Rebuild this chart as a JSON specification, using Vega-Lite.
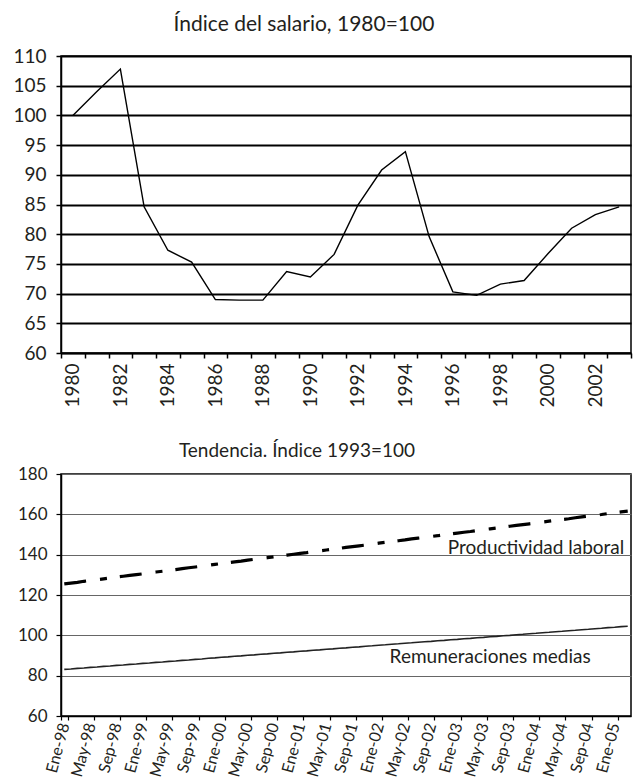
{
  "$schema": "https://vega.github.io/schema/vega-lite/v6.json",
  "background": "white",
  "padding": {"left": 12, "top": 13, "right": 2, "bottom": 0},
  "spacing": 33,
  "config": {
    "font": "Lato",
    "view": {"stroke": "black", "strokeWidth": 1.5},
    "axis": {"labelColor": "#231f20", "domainColor": "black", "tickColor": "black", "title": null},
    "title": {"color": "#231f20", "fontWeight": "normal"}
  },
  "datasets": {
    "salario": [
      {"anio": 1980, "indice": 100.0}, {"anio": 1981, "indice": 104.0}, {"anio": 1982, "indice": 107.8},
      {"anio": 1983, "indice": 84.6}, {"anio": 1984, "indice": 77.3}, {"anio": 1985, "indice": 75.3},
      {"anio": 1986, "indice": 69.0}, {"anio": 1987, "indice": 68.9}, {"anio": 1988, "indice": 68.9},
      {"anio": 1989, "indice": 73.7}, {"anio": 1990, "indice": 72.8}, {"anio": 1991, "indice": 76.6},
      {"anio": 1992, "indice": 84.9}, {"anio": 1993, "indice": 90.8}, {"anio": 1994, "indice": 93.9},
      {"anio": 1995, "indice": 79.6}, {"anio": 1996, "indice": 70.3}, {"anio": 1997, "indice": 69.7},
      {"anio": 1998, "indice": 71.6}, {"anio": 1999, "indice": 72.2}, {"anio": 2000, "indice": 76.7},
      {"anio": 2001, "indice": 81.0}, {"anio": 2002, "indice": 83.3}, {"anio": 2003, "indice": 84.6}
    ],
    "tendencia": [
      {"mes": "Ene-98", "prod": 125.5, "rem": 83.1}, {"mes": "Feb-98", "prod": 125.9, "rem": 83.3}, {"mes": "Mar-98", "prod": 126.3, "rem": 83.6},
      {"mes": "Abr-98", "prod": 126.8, "rem": 83.8}, {"mes": "May-98", "prod": 127.2, "rem": 84.1}, {"mes": "Jun-98", "prod": 127.6, "rem": 84.3},
      {"mes": "Jul-98", "prod": 128.0, "rem": 84.6}, {"mes": "Ago-98", "prod": 128.4, "rem": 84.8}, {"mes": "Sep-98", "prod": 128.9, "rem": 85.1},
      {"mes": "Oct-98", "prod": 129.3, "rem": 85.3}, {"mes": "Nov-98", "prod": 129.7, "rem": 85.6}, {"mes": "Dic-98", "prod": 130.1, "rem": 85.8},
      {"mes": "Ene-99", "prod": 130.5, "rem": 86.1}, {"mes": "Feb-99", "prod": 131.0, "rem": 86.3}, {"mes": "Mar-99", "prod": 131.4, "rem": 86.6},
      {"mes": "Abr-99", "prod": 131.8, "rem": 86.8}, {"mes": "May-99", "prod": 132.2, "rem": 87.1}, {"mes": "Jun-99", "prod": 132.6, "rem": 87.3},
      {"mes": "Jul-99", "prod": 133.1, "rem": 87.6}, {"mes": "Ago-99", "prod": 133.5, "rem": 87.8}, {"mes": "Sep-99", "prod": 133.9, "rem": 88.1},
      {"mes": "Oct-99", "prod": 134.3, "rem": 88.3}, {"mes": "Nov-99", "prod": 134.7, "rem": 88.6}, {"mes": "Dic-99", "prod": 135.2, "rem": 88.8},
      {"mes": "Ene-00", "prod": 135.6, "rem": 89.1}, {"mes": "Feb-00", "prod": 136.0, "rem": 89.3}, {"mes": "Mar-00", "prod": 136.4, "rem": 89.6},
      {"mes": "Abr-00", "prod": 136.8, "rem": 89.8}, {"mes": "May-00", "prod": 137.3, "rem": 90.1}, {"mes": "Jun-00", "prod": 137.7, "rem": 90.3},
      {"mes": "Jul-00", "prod": 138.1, "rem": 90.6}, {"mes": "Ago-00", "prod": 138.5, "rem": 90.8}, {"mes": "Sep-00", "prod": 138.9, "rem": 91.1},
      {"mes": "Oct-00", "prod": 139.4, "rem": 91.3}, {"mes": "Nov-00", "prod": 139.8, "rem": 91.6}, {"mes": "Dic-00", "prod": 140.2, "rem": 91.8},
      {"mes": "Ene-01", "prod": 140.6, "rem": 92.1}, {"mes": "Feb-01", "prod": 141.0, "rem": 92.3}, {"mes": "Mar-01", "prod": 141.5, "rem": 92.6},
      {"mes": "Abr-01", "prod": 141.9, "rem": 92.8}, {"mes": "May-01", "prod": 142.3, "rem": 93.1}, {"mes": "Jun-01", "prod": 142.7, "rem": 93.3},
      {"mes": "Jul-01", "prod": 143.1, "rem": 93.6}, {"mes": "Ago-01", "prod": 143.6, "rem": 93.8}, {"mes": "Sep-01", "prod": 144.0, "rem": 94.1},
      {"mes": "Oct-01", "prod": 144.4, "rem": 94.3}, {"mes": "Nov-01", "prod": 144.8, "rem": 94.6}, {"mes": "Dic-01", "prod": 145.2, "rem": 94.8},
      {"mes": "Ene-02", "prod": 145.7, "rem": 95.1}, {"mes": "Feb-02", "prod": 146.1, "rem": 95.3}, {"mes": "Mar-02", "prod": 146.5, "rem": 95.6},
      {"mes": "Abr-02", "prod": 146.9, "rem": 95.8}, {"mes": "May-02", "prod": 147.3, "rem": 96.1}, {"mes": "Jun-02", "prod": 147.8, "rem": 96.3},
      {"mes": "Jul-02", "prod": 148.2, "rem": 96.6}, {"mes": "Ago-02", "prod": 148.6, "rem": 96.8}, {"mes": "Sep-02", "prod": 149.0, "rem": 97.0},
      {"mes": "Oct-02", "prod": 149.4, "rem": 97.3}, {"mes": "Nov-02", "prod": 149.9, "rem": 97.5}, {"mes": "Dic-02", "prod": 150.3, "rem": 97.8},
      {"mes": "Ene-03", "prod": 150.7, "rem": 98.0}, {"mes": "Feb-03", "prod": 151.1, "rem": 98.3}, {"mes": "Mar-03", "prod": 151.5, "rem": 98.5},
      {"mes": "Abr-03", "prod": 152.0, "rem": 98.8}, {"mes": "May-03", "prod": 152.4, "rem": 99.0}, {"mes": "Jun-03", "prod": 152.8, "rem": 99.3},
      {"mes": "Jul-03", "prod": 153.2, "rem": 99.5}, {"mes": "Ago-03", "prod": 153.6, "rem": 99.8}, {"mes": "Sep-03", "prod": 154.1, "rem": 100.0},
      {"mes": "Oct-03", "prod": 154.5, "rem": 100.3}, {"mes": "Nov-03", "prod": 154.9, "rem": 100.5}, {"mes": "Dic-03", "prod": 155.3, "rem": 100.8},
      {"mes": "Ene-04", "prod": 155.7, "rem": 101.0}, {"mes": "Feb-04", "prod": 156.2, "rem": 101.3}, {"mes": "Mar-04", "prod": 156.6, "rem": 101.5},
      {"mes": "Abr-04", "prod": 157.0, "rem": 101.8}, {"mes": "May-04", "prod": 157.4, "rem": 102.0}, {"mes": "Jun-04", "prod": 157.8, "rem": 102.3},
      {"mes": "Jul-04", "prod": 158.3, "rem": 102.5}, {"mes": "Ago-04", "prod": 158.7, "rem": 102.8}, {"mes": "Sep-04", "prod": 159.1, "rem": 103.0},
      {"mes": "Oct-04", "prod": 159.5, "rem": 103.3}, {"mes": "Nov-04", "prod": 159.9, "rem": 103.5}, {"mes": "Dic-04", "prod": 160.4, "rem": 103.8},
      {"mes": "Ene-05", "prod": 160.8, "rem": 104.0}, {"mes": "Feb-05", "prod": 161.2, "rem": 104.3}, {"mes": "Mar-05", "prod": 161.6, "rem": 104.5}
    ],
    "etiquetas": [
      {"mes": "Ene-04", "valor": 140.3, "texto": "Productividad laboral"},
      {"mes": "Jun-03", "valor": 86.4, "texto": "Remuneraciones medias"}
    ]
  },
  "vconcat": [
    {
      "width": 570,
      "height": 297,
      "title": {"text": "Índice del salario, 1980=100", "fontSize": 21, "dx": -42, "offset": 12},
      "data": {"name": "salario"},
      "mark": {"type": "line", "color": "black", "strokeWidth": 1.4},
      "encoding": {
        "x": {
          "field": "anio", "type": "ordinal", "bandPosition": 0.5,
          "scale": {"type": "band", "paddingInner": 0, "paddingOuter": 0},
          "axis": {
            "labelAngle": -90, "labelExpr": "datum.value % 2 == 0 ? datum.label : ''",
            "tickBand": "extent", "labelFontSize": 19, "tickSize": 5, "labelPadding": 5,
            "domainWidth": 1.5, "tickWidth": 1.5, "grid": false, "labelOverlap": false
          }
        },
        "y": {
          "field": "indice", "type": "quantitative",
          "scale": {"domain": [60, 110], "nice": false},
          "axis": {
            "values": [60, 65, 70, 75, 80, 85, 90, 95, 100, 105, 110],
            "gridColor": "black", "gridWidth": 2, "gridOpacity": 1,
            "labelFontSize": 19, "tickSize": 5, "tickWidth": 1.5, "labelPadding": 10, "domainWidth": 1.5
          }
        }
      }
    },
    {
      "width": 570,
      "height": 242,
      "title": {"text": "Tendencia. Índice 1993=100", "fontSize": 19, "dx": -49, "offset": 4},
      "encoding": {
        "x": {
          "field": "mes", "type": "ordinal", "bandPosition": 0.5,
          "scale": {
            "type": "band", "paddingInner": 0, "paddingOuter": 0,
            "domain": ["Ene-98","Feb-98","Mar-98","Abr-98","May-98","Jun-98","Jul-98","Ago-98","Sep-98","Oct-98","Nov-98","Dic-98",
                       "Ene-99","Feb-99","Mar-99","Abr-99","May-99","Jun-99","Jul-99","Ago-99","Sep-99","Oct-99","Nov-99","Dic-99",
                       "Ene-00","Feb-00","Mar-00","Abr-00","May-00","Jun-00","Jul-00","Ago-00","Sep-00","Oct-00","Nov-00","Dic-00",
                       "Ene-01","Feb-01","Mar-01","Abr-01","May-01","Jun-01","Jul-01","Ago-01","Sep-01","Oct-01","Nov-01","Dic-01",
                       "Ene-02","Feb-02","Mar-02","Abr-02","May-02","Jun-02","Jul-02","Ago-02","Sep-02","Oct-02","Nov-02","Dic-02",
                       "Ene-03","Feb-03","Mar-03","Abr-03","May-03","Jun-03","Jul-03","Ago-03","Sep-03","Oct-03","Nov-03","Dic-03",
                       "Ene-04","Feb-04","Mar-04","Abr-04","May-04","Jun-04","Jul-04","Ago-04","Sep-04","Oct-04","Nov-04","Dic-04",
                       "Ene-05","Feb-05","Mar-05"]
          },
          "axis": {
            "values": ["Ene-98","May-98","Sep-98","Ene-99","May-99","Sep-99","Ene-00","May-00","Sep-00","Ene-01","May-01","Sep-01",
                       "Ene-02","May-02","Sep-02","Ene-03","May-03","Sep-03","Ene-04","May-04","Sep-04","Ene-05"],
            "labelAngle": -75, "tickBand": "extent", "labelFontSize": 16, "tickSize": 4, "labelPadding": 3,
            "domainWidth": 1.5, "tickWidth": 1.2, "grid": false, "labelOverlap": false
          }
        }
      },
      "layer": [
        {
          "data": {"name": "tendencia"},
          "mark": {"type": "line", "color": "black", "strokeWidth": 3.2, "strokeDash": [22, 14, 7, 13]},
          "encoding": {
            "y": {
              "field": "prod", "type": "quantitative",
              "scale": {"domain": [60, 180], "nice": false},
              "axis": {
                "values": [60, 80, 100, 120, 140, 160, 180],
                "gridColor": "#666666", "gridWidth": 1, "gridOpacity": 1,
                "labelFontSize": 17, "tickSize": 5, "tickWidth": 1.2, "labelPadding": 9, "domainWidth": 1.5
              }
            }
          }
        },
        {
          "data": {"name": "tendencia"},
          "mark": {"type": "line", "color": "#222222", "strokeWidth": 1.6},
          "encoding": {"y": {"field": "rem", "type": "quantitative"}}
        },
        {
          "data": {"name": "etiquetas"},
          "mark": {"type": "text", "fontSize": 19, "color": "#231f20", "align": "center", "baseline": "alphabetic"},
          "encoding": {
            "y": {"field": "valor", "type": "quantitative"},
            "text": {"field": "texto"}
          }
        }
      ]
    }
  ]
}
